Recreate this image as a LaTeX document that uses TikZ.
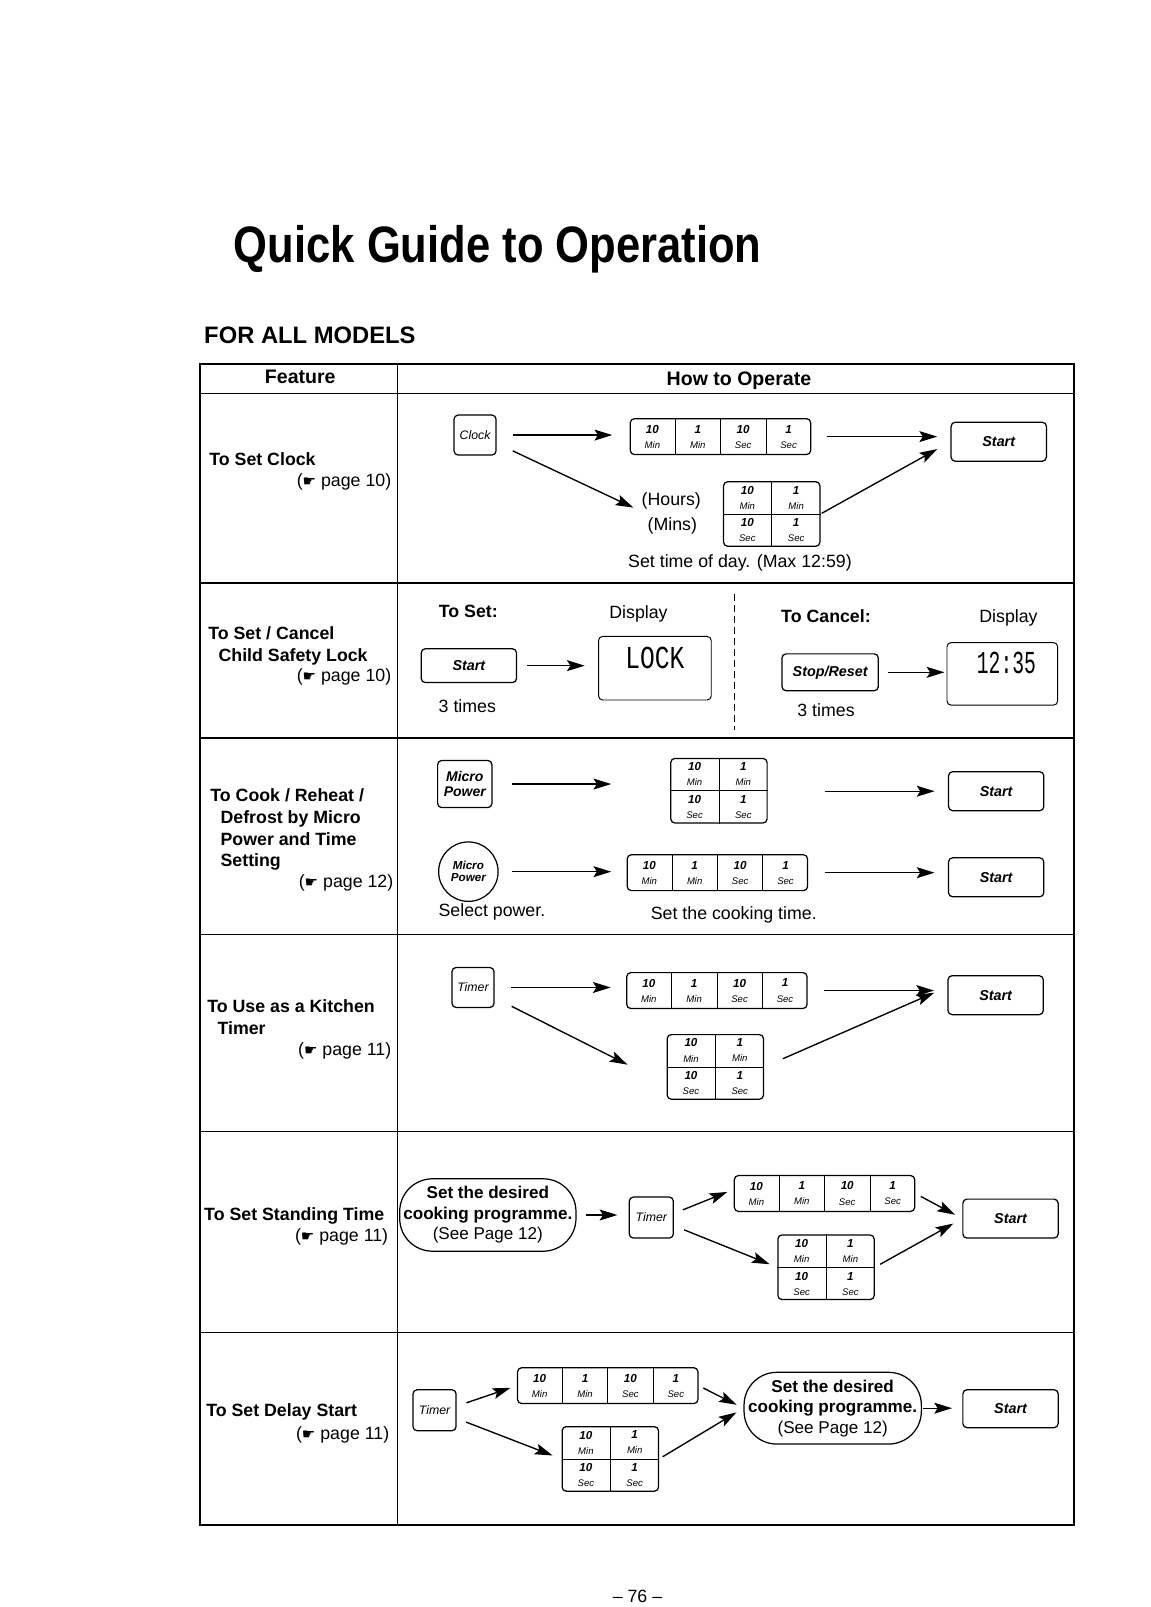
\documentclass[tikz,border=0pt]{standalone}
\usepackage{fontspec}
\usepackage{graphicx}
\usepackage{tikz}
\usetikzlibrary{arrows.meta,calc,positioning}
\setmainfont{Liberation Sans}
\newfontfamily\handfont{DejaVu Sans}
\newfontfamily\segfont{Liberation Mono}

% page reference with the pointing hand
\newcommand{\pref}[1]{({\handfont\fontsize{11}{11}\selectfont ☛} page #1)}
% one key face: number over unit
\newcommand{\kd}[2]{{\fontsize{8.5}{8.5}\selectfont\bfseries\itshape #1}\\[-1pt]{\fontsize{7}{7}\selectfont\itshape #2}}

% row of four time keys
\newcommand{\keystrip}[3]{%
  \node[strip] (#1) at (#2,#3) {};
  \foreach \f in {0.25,0.5,0.75}
    \draw[divider] ($(#1.north west)!\f!(#1.north east)$) -- ($(#1.south west)!\f!(#1.south east)$);
  \foreach \f/\kn/\ku/\k in {0.125/10/Min/a,0.375/1/Min/b,0.625/10/Sec/c,0.875/1/Sec/d}
    \node[keytxt] (#1\k) at ($(#1.west)!\f!(#1.east)$) {\kd{\kn}{\ku}};
}
% block of four time keys
\newcommand{\keygrid}[3]{%
  \node[gridkey] (#1) at (#2,#3) {};
  \draw[divider] (#1.north) -- (#1.south);
  \draw[divider] (#1.west) -- (#1.east);
  \node[keytxt] (#1a) at ($(#1.center)!0.5!(#1.north west)$) {\kd{10}{Min}};
  \node[keytxt] (#1b) at ($(#1.center)!0.5!(#1.north east)$) {\kd{1}{Min}};
  \node[keytxt] (#1c) at ($(#1.center)!0.5!(#1.south west)$) {\kd{10}{Sec}};
  \node[keytxt] (#1d) at ($(#1.center)!0.5!(#1.south east)$) {\kd{1}{Sec}};
}

\begin{document}
\begin{tikzpicture}[x=0.75pt,y=-0.75pt,
    tabline/.style={line width=1.1pt},
    btn/.style={draw,line width=0.9pt,rounded corners=3pt,inner sep=0pt,align=center},
    startkey/.style={btn,minimum width=69.75pt,minimum height=28.5pt,font=\fontsize{10.5}{11}\selectfont\bfseries\itshape},
    smallkey/.style={btn,minimum width=30.75pt,minimum height=29.25pt,font=\fontsize{9}{10}\selectfont\itshape},
    strip/.style={draw,line width=0.9pt,rounded corners=3pt,minimum width=132pt,minimum height=26.25pt,inner sep=0pt},
    gridkey/.style={strip,minimum width=70.5pt,minimum height=47.25pt},
    divider/.style={line width=0.5pt},
    keytxt/.style={inner sep=0pt,align=center},
    arr/.style={line width=1pt,-{Stealth[length=13pt,width=8pt,inset=2.5pt]},shorten <=12pt,shorten >=11pt},
    lbl/.style={font=\fontsize{13}{16}\selectfont\bfseries,inner sep=0pt,align=left,anchor=north west},
    txt/.style={font=\fontsize{13}{16}\selectfont,inner sep=0pt},
    pageref/.style={txt,anchor=east},
    prog/.style={draw,line width=0.9pt,rounded corners=24pt,minimum width=129pt,minimum height=53pt,align=center,inner sep=0pt,font=\fontsize{12.5}{15}\selectfont},
    disp/.style={draw,line width=0.7pt,rounded corners=3pt,minimum width=82.5pt,minimum height=46.5pt},
    seg/.style={font=\segfont\fontsize{18}{18}\selectfont,inner sep=0pt}]
  \useasboundingbox (0,0) rectangle (1123,1568);

  % headings
  \node[anchor=west,inner sep=0pt,font=\fontsize{37.5}{40}\selectfont\bfseries] (title) at (228,243) {\scalebox{0.85}[1]{Quick Guide to Operation}};
  \node[anchor=west,inner sep=0pt,font=\fontsize{17.4}{20}\selectfont\bfseries] (models) at (199,327) {FOR ALL MODELS};

  % table
  \draw[tabline] (195,355) rectangle (1048,1488);
  \draw[tabline] (388,355) -- (388,1488);
  \foreach \yy in {384,569,720,912,1104,1300}
    \draw[tabline] (195,\yy) -- (1048,\yy);
  \node[txt,font=\fontsize{14.3}{16}\selectfont\bfseries] (hfeat) at (293,368) {Feature};
  \node[txt,font=\fontsize{14.3}{16}\selectfont\bfseries] (hop) at (721,371) {How to Operate};

  % feature column
  \node[lbl,anchor=west] (fA) at (204,448) {To Set Clock};
  \node[pageref] (pA) at (382,470) {\pref{10}};
  \node[lbl] (fB) at (203,611) {To Set / Cancel\\\hspace*{7.5pt}Child Safety Lock};
  \node[pageref] (pB) at (382,660) {\pref{10}};
  \node[lbl] (fC) at (205,769) {To Cook / Reheat /\\\hspace*{7.5pt}Defrost by Micro\\\hspace*{7.5pt}Power and Time\\\hspace*{7.5pt}Setting};
  \node[pageref] (pC) at (384,861) {\pref{12}};
  \node[lbl] (fD) at (202,975) {To Use as a Kitchen\\\hspace*{7.5pt}Timer};
  \node[pageref] (pD) at (382,1025) {\pref{11}};
  \node[lbl,anchor=west] (fE) at (199,1186) {To Set Standing Time};
  \node[pageref] (pE) at (379,1207) {\pref{11}};
  \node[lbl,anchor=west] (fF) at (201,1378) {To Set Delay Start};
  \node[pageref] (pF) at (380,1400) {\pref{11}};

  % clock
  \node[smallkey] (clk) at (463.5,424.5) {Clock};
  \keystrip{strA}{703}{426}
  \node[startkey] (startA) at (974.5,431) {Start};
  \node[txt] (hrs) at (655,489) {(Hours)};
  \node[txt] (mins) at (656,513) {(Mins)};
  \keygrid{grA}{753}{501.5}
  \node[txt] (noteA) at (722,549) {Set time of day. (Max 12:59)};
  \draw[arr,shorten >=12.75pt] (clk.east) -- (clk.east -| strA.west);
  \draw[arr,shorten <=11.25pt,shorten >=9.75pt] (strA.east) -- (strA.east -| startA.west);
  \draw[arr,shorten <=13pt,shorten >=6.5pt] ($(clk.east)+(0,8)$) -- ($(hrs.west)+(0,10)$);
  \draw[arr,shorten <=1pt] (grA.east) -- (startA.west);

  % child lock
  \node[lbl,anchor=west] (tset) at (428,597) {To Set:};
  \node[txt] (dispA) at (623,599) {Display};
  \draw[line width=0.7pt,dash pattern=on 5pt off 3pt] (717,580) -- (717,712);
  \node[lbl,anchor=west] (tcan) at (762,601) {To Cancel:};
  \node[txt] (dispB) at (984,603) {Display};
  \node[startkey,minimum height=24.75pt] (startB) at (457.5,649.5) {Start};
  \node[disp] (lock) at (639,652) {};
  \node[seg] (locktxt) at (639,642) {\scalebox{1}[1.3]{LOCK}};
  \node[txt] (timesA) at (456,689) {3 times};
  \node[startkey,minimum width=70.5pt,minimum height=27pt] (stop) at (810,656) {Stop/Reset};
  \node[disp,minimum width=81pt,minimum height=45.75pt] (clkdisp) at (978,657.5) {};
  \node[seg] (clktxt) at (982,647) {\scalebox{0.8}[1.3]{12:35}};
  \node[txt] (timesB) at (806,693) {3 times};
  \draw[arr,shorten <=7.5pt,shorten >=9.75pt] (startB.east) -- (startB.east -| lock.west);
  \draw[arr,shorten <=6.75pt,shorten >=1.5pt] (stop.east) -- (stop.east -| clkdisp.west);

  % micro power
  \node[btn,minimum width=39.75pt,minimum height=34.5pt,font=\fontsize{10.25}{10.5}\selectfont\bfseries\itshape] (mpA) at (453.5,765) {Micro\\Power};
  \keygrid{grC}{701.5}{771.5}
  \node[startkey] (startC1) at (972,772) {Start};
  \node[circle,draw,line width=0.9pt,minimum size=43.5pt,inner sep=0pt,align=center,font=\fontsize{8.5}{9}\selectfont\bfseries\itshape] (mpB) at (457,850.5) {Micro\\Power};
  \keystrip{strC}{700}{851.5}
  \node[startkey] (startC2) at (972,856) {Start};
  \node[txt] (selp) at (480,890) {Select power.};
  \node[txt] (setc) at (716,893) {Set the cooking time.};
  \draw[arr,shorten <=14.25pt,shorten >=11.25pt] (mpA.east) -- (mpA.east -| strC.west);
  \draw[arr,shorten >=9.75pt] (strC.east |- startC1.west) -- (startC1.west);
  \draw[arr,shorten <=9.75pt,shorten >=11.25pt] (mpB.east) -- (mpB.east -| strC.west);
  \draw[arr,shorten >=9.75pt] (strC.east) -- (strC.east -| startC2.west);

  % kitchen timer
  \node[smallkey] (tmD) at (461.5,963.5) {Timer};
  \keystrip{strD}{699.5}{966.5}
  \node[startkey] (startD) at (971.5,971) {Start};
  \keygrid{grD}{698}{1041}
  \draw[arr,shorten >=11.25pt] (tmD.east) -- (tmD.east -| strD.west);
  \draw[arr,shorten >=9.75pt] (strD.east) -- (strD.east -| startD.west);
  \draw[arr,shorten <=14pt,shorten >=32pt] ($(tmD.east)+(0,10)$) -- ($(grD.west)+(0,17)$);
  \draw[arr,shorten <=15pt,shorten >=10.5pt] (grD.east) -- ($(startD.west)+(0,-8)$);

  % standing time
  \node[prog] (progE) at (476,1185.5) {\textbf{Set the desired}\\\textbf{cooking programme.}\\(See Page 12)};
  \node[smallkey,minimum width=32.25pt,minimum height=30pt] (tmE) at (635.5,1188) {Timer};
  \keystrip{strE}{804.5}{1164.5}
  \node[startkey] (startE) at (986,1189) {Start};
  \keygrid{grE}{806}{1236.5}
  \draw[arr,shorten <=6.75pt,shorten >=8.25pt] (progE.east) -- (progE.east -| tmE.west);
  \draw[arr,shorten <=7pt,shorten >=5pt] ($(tmE.east)+(0,-4)$) -- ($(strE.west)+(0,-4)$);
  \draw[arr,shorten <=4.5pt,shorten >=6pt] (strE.east) -- (startE.west);
  \draw[arr,shorten <=8pt,shorten >=6pt] ($(tmE.east)+(0,8)$) -- (grE.west);
  \draw[arr,shorten <=4.5pt,shorten >=7.5pt] (grE.east) -- (startE.west);

  % delay start
  \node[smallkey,minimum width=31.5pt,minimum height=30pt] (tmF) at (424,1376) {Timer};
  \keystrip{strF}{593}{1352}
  \keygrid{grF}{595.5}{1423.5}
  \node[prog,minimum width=129.75pt,minimum height=52.5pt] (progF) at (812.5,1374) {\textbf{Set the desired}\\\textbf{cooking programme.}\\(See Page 12)};
  \node[startkey,minimum height=27.75pt] (startF) at (986,1374.5) {Start};
  \draw[arr,shorten <=7.5pt,shorten >=5pt] ($(tmF.east)+(0,-4)$) -- (strF.west);
  \draw[arr,shorten <=4pt,shorten >=5.5pt] (strF.east) -- (progF.west);
  \draw[arr,shorten <=7.5pt,shorten >=7pt] ($(tmF.east)+(0,8)$) -- (grF.west);
  \draw[arr,shorten <=3pt,shorten >=6pt] (grF.east) -- (progF.west);
  \draw[arr,shorten <=0.75pt,shorten >=7.5pt] (progF.east) -- (progF.east -| startF.west);

  % page number
  \node[txt] (pgno) at (622,1558) {– 76 –};
\end{tikzpicture}
\end{document}
